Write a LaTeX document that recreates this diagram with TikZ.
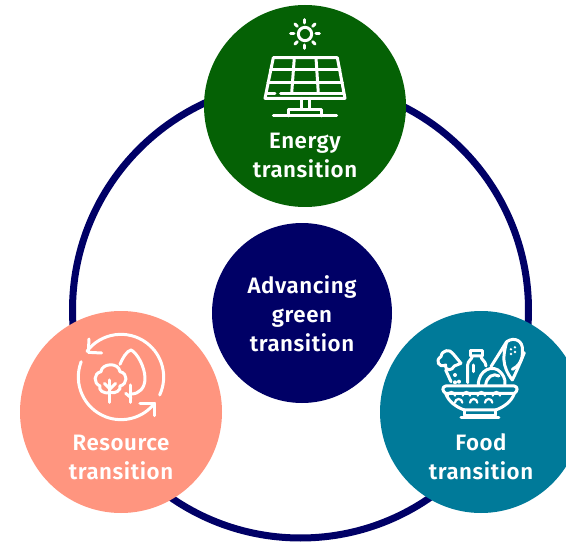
\documentclass[tikz,border=0pt]{standalone}
\usepackage{fontspec}
\setmainfont{Fira Sans}[BoldFont={Fira Sans SemiBold},LetterSpace=2.5]
\definecolor{navy}{HTML}{000066}
\definecolor{grn}{HTML}{056105}
\definecolor{salmon}{HTML}{FF957F}
\definecolor{teal2}{HTML}{007A99}
\tikzset{
  hub/.style={circle,draw=none,inner sep=0pt,minimum size=#1},
  lbl/.style={text=white,font=\fontsize{22.3}{29}\selectfont\bfseries,align=center,inner sep=0pt},
  icon/.style={draw=white,line width=3pt,line cap=round,line join=round},
  thin icon/.style={draw=white,line width=2.2pt,line cap=round,line join=round},
  zoomed/.style={x=0.3333pt,y=-0.3333pt}
}
\begin{document}
\begin{tikzpicture}[x=1pt,y=-1pt]
\useasboundingbox (0,0) rectangle (566,543);
\clip (0,0) rectangle (566,543);
\fill[white] (0,0) rectangle (566,543);
\node[hub=456pt,draw=navy,line width=7pt,minimum size=456pt] (ring) at (300.5,310) {};
\node[hub=202pt,fill=grn] (energy) at (305,106) {};
\node[hub=180pt,fill=navy] (center) at (302,313) {};
\node[hub=202pt,fill=salmon] (resource) at (121,412) {};
\node[hub=202pt,fill=teal2] (food) at (481,412) {};
\node[lbl] (tenergy) at (305,155) {Energy\\transition};
\node[lbl] (tcenter) at (302,313.5) {Advancing\\green\\transition};
\node[lbl] (tresource) at (121,457) {Resource\\transition};
\node[lbl] (tfood) at (481,457) {Food\\transition};
% solar panel
\begin{scope}[shift={(250,10)},zoomed]
  \draw[icon] (165,72) circle (20);
  \foreach \a in {0,45,...,315} \draw[icon] (165,72) ++(\a:33) -- ++(\a:10);
  \draw[icon] (70,143) -- (262,143) -- (285,265) -- (45,265) -- cycle;
  \draw[icon] (62,180) -- (270,180);
  \draw[icon] (54,218) -- (277,218);
  \draw[icon] (50,250) -- (75,250);
  \draw[icon] (92,250) -- (280,250);
  \draw[icon] (133,143) -- (125,250);
  \draw[icon] (198,143) -- (205,250);
  \draw[icon] (155,265) -- (155,298);
  \draw[icon] (178,265) -- (178,298);
  \draw[icon] (115,318) -- (115,298) -- (215,298) -- (215,318);
  \draw[icon] (70,318) -- (260,318);
\end{scope}
% recycling trees
\begin{scope}[shift={(65,325)},zoomed]
  \draw[icon] (168,156) ++(217:128) arc[start angle=217,end angle=385,radius=128];
  \draw[icon] (168,156) ++(201:128) arc[start angle=201,end angle=38,radius=128];
  \draw[icon] (72,42) -- (70,82) -- (110,84);
  \draw[icon] (225,235) -- (270,235) -- (270,272);
  \draw[icon] (165,118) .. controls (172,100) and (185,78) .. (198,75)
     .. controls (215,82) and (240,125) .. (240,160)
     .. controls (240,190) and (222,207) .. (198,207);
  \draw[icon] (198,180) -- (198,232);
  \draw[icon] (182,205) -- (198,218);
  \draw[icon] (135,202) .. controls (115,208) and (100,195) .. (105,183)
     .. controls (85,175) and (85,145) .. (108,140)
     .. controls (110,115) and (160,110) .. (165,140)
     .. controls (190,145) and (188,178) .. (165,183)
     .. controls (170,195) and (150,208) .. (135,202);
  \draw[icon] (135,165) -- (135,232);
  \draw[icon] (118,175) -- (135,192) -- (152,175);
\end{scope}
% food bowl
\begin{scope}[shift={(425,330)},zoomed]
  \draw[icon] (62,190) .. controls (52,185) and (50,170) .. (62,168) -- (268,168)
     .. controls (280,170) and (278,185) .. (268,190) -- cycle;
  \draw[icon] (62,190) .. controls (70,215) and (95,232) .. (118,240) -- (212,240)
     .. controls (235,232) and (260,215) .. (268,190);
  \draw[icon] (118,240) -- (118,258) -- (212,258) -- (212,240);
  \draw[icon] (108,262) -- (222,262);
  \draw[thin icon] (90,197) arc[start angle=180,end angle=0,radius=-11];
  \foreach \x in {135,180,225} \draw[thin icon] (\x,197) arc[start angle=180,end angle=0,radius=-11];
  \foreach \x in {112,157,202} \draw[thin icon] (\x,218) arc[start angle=180,end angle=0,radius=-11];
  % bone
  \draw[icon] (108,100) -- (88,108) .. controls (82,122) and (60,125) .. (62,105)
     .. controls (40,115) and (30,90) .. (48,80)
     .. controls (50,60) and (75,55) .. (85,72) -- (108,100);
  \draw[icon] (62,120) -- (78,155);
  \fill[white] (90,135) circle (6) (102,155) circle (6) (90,157) circle (6);
  % bottle
  \draw[icon] (128,158) -- (128,105) .. controls (128,92) and (142,88) .. (142,78)
     -- (168,78) .. controls (168,90) and (182,92) .. (183,108);
  \draw[icon] (138,78) -- (138,62) -- (172,62) -- (172,78);
  \draw[icon] (145,105) -- (145,125);
  % bread
  \draw[icon] (160,165) .. controls (160,120) and (205,100) .. (228,128)
     .. controls (242,145) and (240,155) .. (240,165);
  \draw[icon] (182,165) .. controls (185,140) and (205,128) .. (222,138);
  % corn
  \draw[icon] (198,110) -- (245,35) .. controls (235,75) and (228,105) .. (262,150);
  \draw[icon] (245,35) .. controls (270,18) and (295,35) .. (292,60)
     .. controls (295,90) and (280,110) .. (262,118);
  \draw[icon] (298,68) .. controls (285,100) and (272,130) .. (262,150);
  \fill[white] (258,58) circle (4) (270,52) circle (4) (258,72) circle (4) (270,66) circle (4);
\end{scope}
\end{tikzpicture}
\end{document}
